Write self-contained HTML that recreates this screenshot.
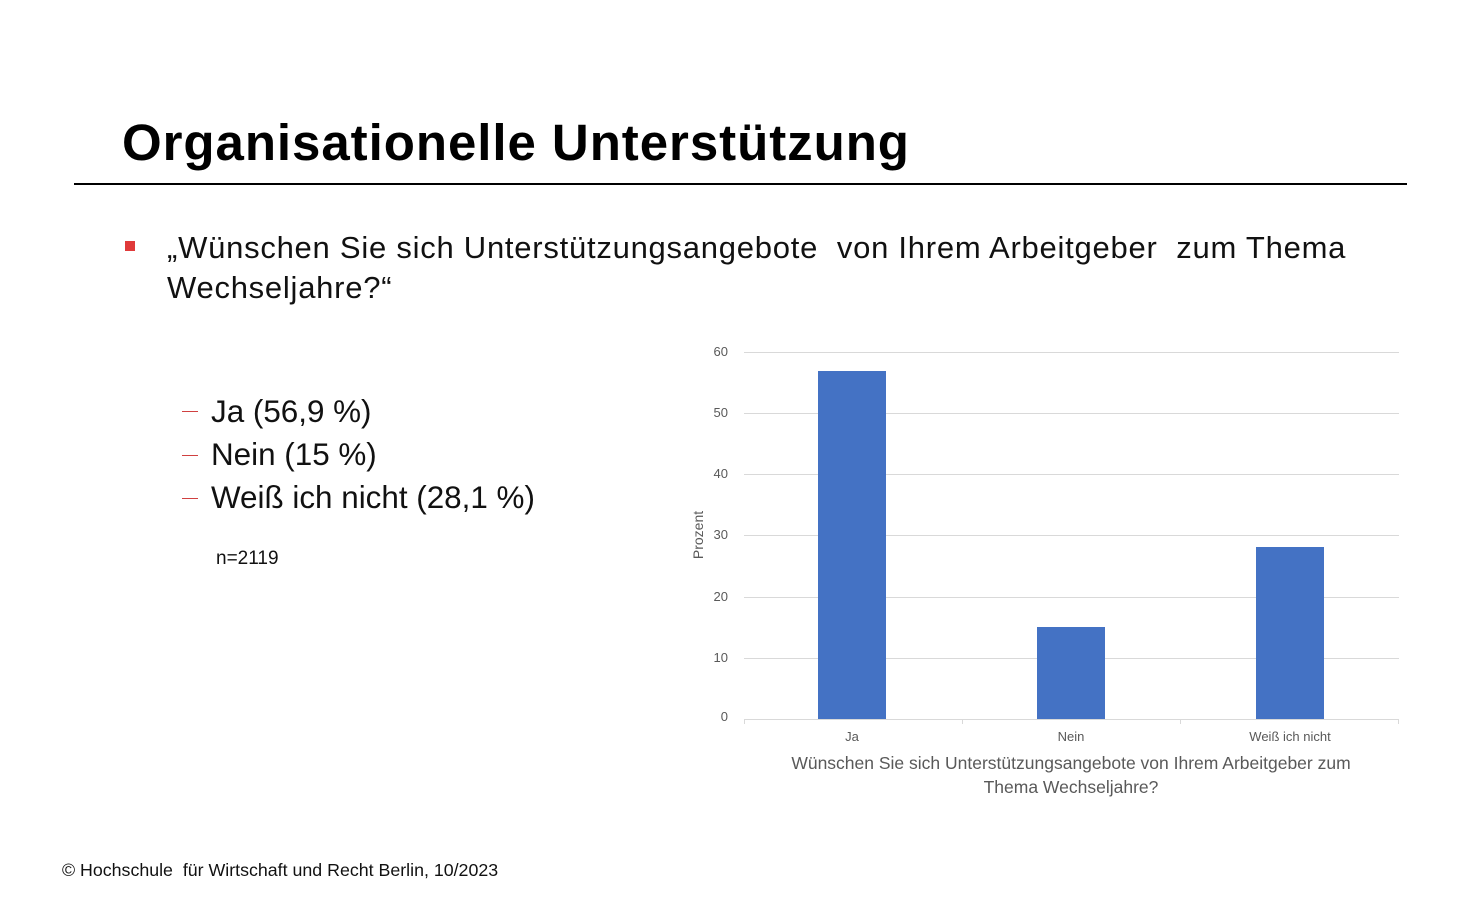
<!DOCTYPE html>
<html><head><meta charset="utf-8"><style>
body{margin:0;width:1482px;height:900px;background:#fff;position:relative;font-family:"Liberation Sans",sans-serif;overflow:hidden}
.a{position:absolute;white-space:nowrap}
</style></head><body>
<div class="a" style="left:122px;top:113px;font-size:51px;letter-spacing:0.95px;font-weight:bold;color:#000">Organisationelle Unterstützung</div>
<div class="a" style="left:74px;top:183px;width:1333px;height:2px;background:#000"></div>
<div class="a" style="left:125px;top:241px;width:10px;height:10px;background:#e03a3a"></div>
<div class="a" style="left:167px;top:228px;font-size:31px;letter-spacing:0.75px;line-height:40px;color:#111">„Wünschen Sie sich Unterstützungsangebote&nbsp; von Ihrem Arbeitgeber&nbsp; zum Thema<br>Wechseljahre?“</div>
<div class="a" style="left:182px;top:411px;width:16px;height:1px;background:#d04040"></div>
<div class="a" style="left:182px;top:455px;width:16px;height:1px;background:#d04040"></div>
<div class="a" style="left:182px;top:498px;width:16px;height:1px;background:#d04040"></div>
<div class="a" style="left:211px;top:390px;font-size:31.4px;line-height:43px;color:#111">Ja (56,9 %)<br>Nein (15 %)<br>Weiß ich nicht (28,1 %)</div>
<div class="a" style="left:216px;top:548px;font-size:19px;color:#111">n=2119</div>
<div class="a" style="left:62px;top:860px;font-size:17.8px;color:#111">© Hochschule&nbsp; für Wirtschaft und Recht Berlin, 10/2023</div>
<svg class="a" style="left:0;top:0" width="1482" height="900" font-family="Liberation Sans, sans-serif">
<g stroke="#d9d9d9" stroke-width="1">
<line x1="744" y1="352.5" x2="1399" y2="352.5"/><line x1="744" y1="413.5" x2="1399" y2="413.5"/>
<line x1="744" y1="474.5" x2="1399" y2="474.5"/><line x1="744" y1="535.5" x2="1399" y2="535.5"/>
<line x1="744" y1="597.5" x2="1399" y2="597.5"/><line x1="744" y1="658.5" x2="1399" y2="658.5"/>
<line x1="744" y1="719.5" x2="1399" y2="719.5"/>
<line x1="744.5" y1="719" x2="744.5" y2="724"/><line x1="962.5" y1="719" x2="962.5" y2="724"/><line x1="1180.5" y1="719" x2="1180.5" y2="724"/><line x1="1398.5" y1="719" x2="1398.5" y2="724"/>
</g>
<g fill="#4472c4"><rect x="818" y="371" width="68" height="348"/><rect x="1037" y="627" width="68" height="92"/><rect x="1256" y="547" width="68" height="172"/></g>
<g fill="#595959" font-size="13" text-anchor="end">
<text x="728" y="356">60</text><text x="728" y="417">50</text><text x="728" y="478">40</text><text x="728" y="539">30</text><text x="728" y="601">20</text><text x="728" y="662">10</text><text x="728" y="721">0</text>
</g>
<g fill="#595959" font-size="13" text-anchor="middle">
<text x="852" y="741">Ja</text><text x="1071" y="741">Nein</text><text x="1290" y="741">Weiß ich nicht</text>
<text x="703" y="535" transform="rotate(-90 703 535)" font-size="14">Prozent</text>
<text x="1071" y="769" font-size="17.5">Wünschen Sie sich Unterstützungsangebote von Ihrem Arbeitgeber zum</text>
<text x="1071" y="793" font-size="17.5">Thema Wechseljahre?</text>
</g>
</svg>
</body></html>
